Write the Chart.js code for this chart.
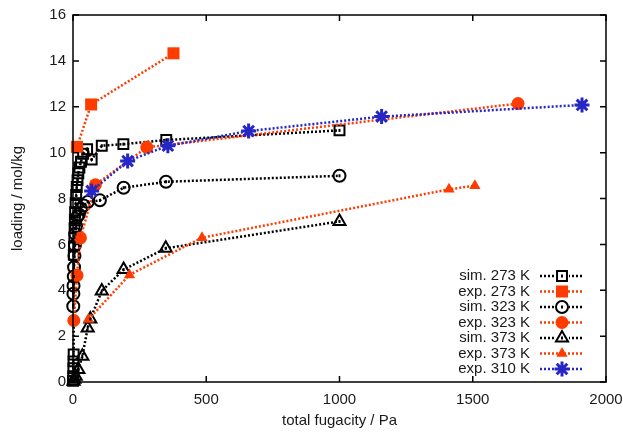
<!DOCTYPE html>
<html>
<head>
<meta charset="utf-8">
<script src="https://cdn.jsdelivr.net/npm/chart.js@4"></script>
<style>
  html, body { margin: 0; padding: 0; background: #fff; }
  #wrap { width: 623px; height: 432px; }
</style>
</head>
<body>
<div id="wrap"><canvas id="isotherm-chart" width="623" height="432"></canvas></div>
<script>
// Adsorption isotherms: loading vs total fugacity
const seriesLabels = ['sim. 273 K', 'exp. 273 K', 'sim. 323 K', 'exp. 323 K', 'sim. 373 K', 'exp. 373 K', 'exp. 310 K'];

const fugSim273 = [0.5, 1, 1.5, 2, 2.5, 3, 4, 5, 6, 7, 8, 10, 12, 14, 17, 20, 24, 30, 38, 53, 70, 108, 189, 350, 1000];
const loadSim273 = [0.05, 0.25, 0.6, 0.9, 1.2, 5.55, 5.9, 6.3, 6.7, 7.05, 7.4, 7.8, 8.15, 8.5, 8.8, 9.1, 9.35, 9.6, 9.95, 10.15, 9.7, 10.3, 10.37, 10.55, 10.97];

const fugExp273 = [15, 68, 377];
const loadExp273 = [10.25, 12.1, 14.33];

const fugSim323 = [1, 1.5, 2, 3, 4, 5.5, 7, 9, 12, 16, 22, 30, 40, 55, 101, 190, 349, 1000];
const loadSim323 = [3.3, 3.85, 4.2, 4.6, 5.0, 5.5, 5.95, 6.45, 6.8, 7.2, 7.3, 7.55, 7.7, 7.85, 7.92, 8.47, 8.73, 8.99];

const fugExp323 = [3, 15, 28, 84, 277, 1670];
const loadExp323 = [2.68, 4.65, 6.28, 8.6, 10.23, 12.14];

const fugSim373 = [2, 5, 10, 20, 35, 55, 65, 108, 190, 348, 1000];
const loadSim373 = [0.03, 0.12, 0.25, 0.55, 1.12, 2.35, 2.75, 3.97, 4.9, 5.83, 7.0];

const fugExp373 = [58, 212, 484, 1411, 1508];
const loadExp373 = [2.73, 4.67, 6.29, 8.4, 8.56];

const fugExp310 = [70, 205, 356, 659, 1158, 1910];
const loadExp310 = [8.33, 9.63, 10.3, 10.94, 11.57, 12.08];

const xTicks = [0, 500, 1000, 1500, 2000];
const yTicks = [0, 2, 4, 6, 8, 10, 12, 14, 16];

const RED = '#ff3c00';
const BLUE = '#2626c4';
const BLACK = '#000000';
const TEXT = '#1a1a1a';
const FONT = '"Liberation Sans", Arial, sans-serif';

const toPoints = (xs, ys) => xs.map((x, i) => ({ x: x, y: ys[i] }));

const styles = [
  { color: BLACK, point: 'rect', radius: 7, fill: false, sim: true },
  { color: RED, point: 'rect', radius: 8.5, fill: true },
  { color: BLACK, point: 'circle', radius: 6, fill: false, sim: true },
  { color: RED, point: 'circle', radius: 6.5, fill: true },
  { color: BLACK, point: 'triangle', radius: 7, fill: false, sim: true },
  { color: RED, point: 'triangle', radius: 6.5, fill: true },
  { color: BLUE, point: 'star', radius: 7.5, fill: false }
];

const seriesData = [
  toPoints(fugSim273, loadSim273),
  toPoints(fugExp273, loadExp273),
  toPoints(fugSim323, loadSim323),
  toPoints(fugExp323, loadExp323),
  toPoints(fugSim373, loadSim373),
  toPoints(fugExp373, loadExp373),
  toPoints(fugExp310, loadExp310)
];

const markerWidth = s => s.fill ? 0 : (s.point === 'star' ? 3 : 2);

const datasets = seriesData.map((data, i) => {
  const s = styles[i];
  return {
    label: seriesLabels[i],
    data: data,
    showLine: true,
    clip: false,
    order: seriesData.length - i,
    borderColor: s.color,
    borderWidth: 2.5,
    borderDash: [2, 2],
    pointStyle: s.point,
    pointRadius: s.radius,
    pointHoverRadius: s.radius,
    pointBorderColor: s.color,
    pointBorderWidth: markerWidth(s),
    pointBackgroundColor: s.fill ? s.color : 'rgba(255,255,255,0)',
    simSeries: !!s.sim
  };
});

// Frame with inward ticks on all four sides, plus the legend in the lower right
const framePlugin = {
  id: 'frame',
  afterDatasetsDraw(chart) {
    const { ctx, chartArea: a, scales } = chart;
    ctx.save();
    // small dot in the middle of simulated points
    chart.data.datasets.forEach((ds, i) => {
      if (!ds.simSeries) return;
      chart.getDatasetMeta(i).data.forEach(pt => {
        ctx.fillStyle = BLACK;
        ctx.fillRect(pt.x - 1, pt.y - 1.5, 2, 3);
      });
    });
    ctx.strokeStyle = BLACK;
    ctx.lineWidth = 1.5;
    ctx.setLineDash([]);
    ctx.strokeRect(a.left, a.top, a.right - a.left, a.bottom - a.top);
    const len = 6;
    ctx.beginPath();
    xTicks.forEach(v => {
      const px = scales.x.getPixelForValue(v);
      ctx.moveTo(px, a.bottom); ctx.lineTo(px, a.bottom - len);
      ctx.moveTo(px, a.top); ctx.lineTo(px, a.top + len);
    });
    yTicks.forEach(v => {
      const py = scales.y.getPixelForValue(v);
      ctx.moveTo(a.left, py); ctx.lineTo(a.left + len, py);
      ctx.moveTo(a.right, py); ctx.lineTo(a.right - len, py);
    });
    ctx.stroke();

    // legend
    const textRight = 530, lineStart = 540, lineEnd = 584, rowTop = 276, rowStep = 15.5;
    ctx.font = '15px ' + FONT;
    ctx.textAlign = 'right';
    ctx.textBaseline = 'middle';
    chart.data.datasets.forEach((ds, i) => {
      const s = styles[i];
      const y = rowTop + i * rowStep;
      ctx.fillStyle = TEXT;
      ctx.fillText(ds.label, textRight, y);
      ctx.strokeStyle = s.color;
      ctx.lineWidth = 2.5;
      ctx.setLineDash([2, 2]);
      ctx.beginPath();
      ctx.moveTo(lineStart, y); ctx.lineTo(lineEnd, y);
      ctx.stroke();
      ctx.setLineDash([]);
      const mx = (lineStart + lineEnd) / 2;
      if (!s.fill) {
        ctx.fillStyle = '#fff';
        ctx.fillRect(mx - 7, y - 7, 14, 14);
      }
      ctx.strokeStyle = s.color;
      ctx.fillStyle = s.fill ? s.color : 'rgba(255,255,255,0)';
      ctx.lineWidth = markerWidth(s);
      Chart.helpers.drawPoint(ctx, {
        pointStyle: s.point,
        radius: s.radius,
        borderWidth: markerWidth(s)
      }, mx, y);
      if (s.sim) {
        ctx.fillStyle = BLACK;
        ctx.fillRect(mx - 1, y - 1.5, 2, 3);
      }
    });
    ctx.restore();
  }
};

const ctx = document.getElementById('isotherm-chart').getContext('2d');

new Chart(ctx, {
  type: 'scatter',
  data: { datasets: datasets },
  options: {
    responsive: false,
    animation: false,
    devicePixelRatio: 1,
    layout: { padding: { top: 15, right: 17, left: 0, bottom: 0 } },
    plugins: {
      legend: { display: false },
      tooltip: { enabled: false }
    },
    scales: {
      x: {
        type: 'linear',
        min: 0,
        max: 2000,
        afterBuildTicks: scale => { scale.ticks = xTicks.map(v => ({ value: v })); },
        afterFit: scale => {
          scale.height = 50;
          scale.paddingLeft = 0;
          scale.paddingRight = 0;
        },
        grid: { display: false, drawTicks: false },
        border: { display: false },
        ticks: { color: TEXT, font: { family: FONT, size: 15 }, padding: 9, maxRotation: 0, callback: v => String(v) },
        title: { display: true, text: 'total fugacity / Pa', color: TEXT, font: { family: FONT, size: 15 }, padding: { top: 0, bottom: 2 } }
      },
      y: {
        type: 'linear',
        min: 0,
        max: 16,
        afterBuildTicks: scale => { scale.ticks = yTicks.map(v => ({ value: v })); },
        afterFit: scale => {
          scale.width = 73;
          scale.paddingTop = 0;
          scale.paddingBottom = 0;
        },
        grid: { display: false, drawTicks: false },
        border: { display: false },
        ticks: { color: TEXT, font: { family: FONT, size: 15 }, padding: 7, callback: v => String(v) },
        title: { display: true, text: 'loading / mol/kg', color: TEXT, font: { family: FONT, size: 15 }, padding: { top: 9, bottom: 0 } }
      }
    }
  },
  plugins: [framePlugin]
});
</script>
</body>
</html>
